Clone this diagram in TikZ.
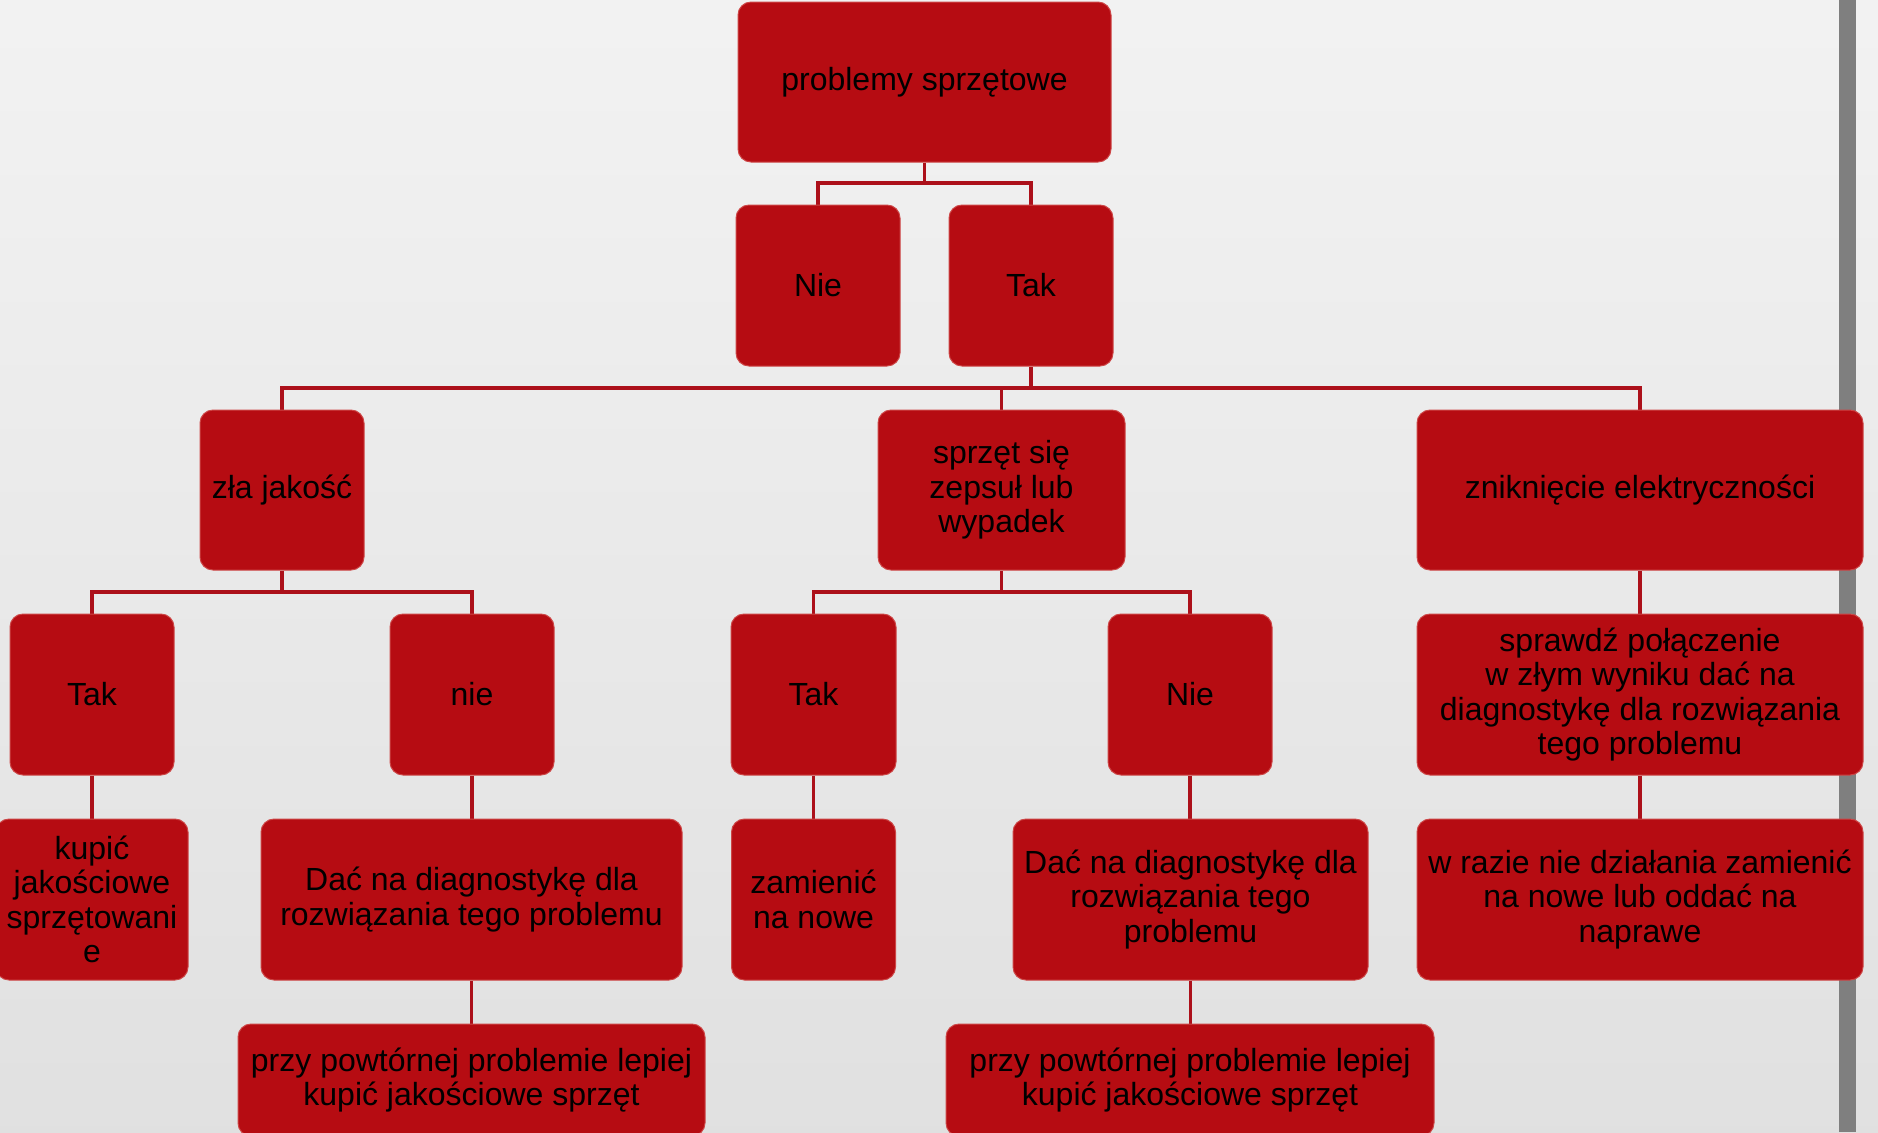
\documentclass[tikz,border=0pt]{standalone}
\usepackage{fontspec}
\setmainfont{Liberation Sans}
\definecolor{boxred}{RGB}{182,12,18}
\definecolor{boxedge}{RGB}{205,70,70}
\definecolor{linered}{RGB}{172,16,26}
\definecolor{barGray}{RGB}{127,127,127}
\pgfdeclarelayer{bglayer}
\pgfdeclarelayer{linelayer}
\pgfsetlayers{bglayer,linelayer,main}
\begin{document}
\begin{tikzpicture}[x=0.5pt,y=-0.5pt,
  box/.style={draw=boxedge,line width=0.5pt,fill=boxred,rounded corners=6.5pt,
    inner sep=0pt,align=center,text=black,
    font=\fontsize{16}{17.2}\selectfont},
  conn/.style={draw=linered,line width=1.8pt}]
\useasboundingbox (0,0) rectangle (1878,1132);
% boxes
\node[box,minimum width=186.5pt,minimum height=80pt] (root) at (924.5,82) {problemy sprzętowe};
\node[box,minimum width=82pt,minimum height=80.5pt] (nie1) at (818,285.5) {Nie};
\node[box,minimum width=82pt,minimum height=80.5pt] (tak1) at (1031,285.5) {Tak};
\node[box,minimum width=82pt,minimum height=80pt] (zla) at (282,490) {zła jakość};
\node[box,minimum width=123.5pt,minimum height=80pt] (sprz) at (1001.5,490) {sprzęt się\\zepsuł lub\\wypadek};
\node[box,minimum width=223pt,minimum height=80pt] (znik) at (1640,490) {zniknięcie elektryczności};
\node[box,minimum width=82pt,minimum height=80.5pt] (takL) at (92,694.5) {Tak};
\node[box,minimum width=82pt,minimum height=80.5pt] (nieL) at (472,694.5) {nie};
\node[box,minimum width=82.5pt,minimum height=80.5pt] (takM) at (813.5,694.5) {Tak};
\node[box,minimum width=82pt,minimum height=80.5pt] (nieM) at (1190,694.5) {Nie};
\node[box,minimum width=223pt,minimum height=80.5pt] (spraw) at (1640,694.5) {sprawdź połączenie\\w złym wyniku dać na\\diagnostykę dla rozwiązania\\tego problemu};
\node[box,minimum width=96pt,minimum height=80.5pt] (kupic) at (92,899.5) {kupić\\jakościowe\\sprzętowani\\e};
\node[box,minimum width=210.5pt,minimum height=80.5pt] (dacL) at (471.5,899.5) {Dać na diagnostykę dla\\rozwiązania tego problemu};
\node[box,minimum width=82pt,minimum height=80.5pt] (zam) at (813.5,899.5) {zamienić\\na nowe};
\node[box,minimum width=177.5pt,minimum height=80.5pt] (dacM) at (1190.5,899.5) {Dać na diagnostykę dla\\rozwiązania tego\\problemu};
\node[box,minimum width=223pt,minimum height=80.5pt] (wraz) at (1640,899.5) {w razie nie działania zamienić\\na nowe lub oddać na\\naprawe};
\node[box,minimum width=233.5pt,minimum height=56pt] (przyL) at (471.5,1080) {przy powtórnej problemie lepiej\\kupić jakościowe sprzęt};
\node[box,minimum width=244pt,minimum height=56pt] (przyM) at (1190,1080) {przy powtórnej problemie lepiej\\kupić jakościowe sprzęt};
% junctions
\coordinate (j1) at (924.5,183);
\coordinate (j2) at (1031,388);
\coordinate (j3) at (282,592);
\coordinate (j4) at (1001.5,592);
% background
\begin{pgfonlayer}{bglayer}
  \shade[top color=black!5,bottom color=black!12] (0,0) rectangle (1878,1132);
  \fill[barGray] (1839,0) rectangle (1856,1132);
\end{pgfonlayer}
% connectors
\begin{pgfonlayer}{linelayer}
  \draw[conn] (root.south) -- (j1);
  \draw[conn] (nie1.north) |- (j1) -| (tak1.north);
  \draw[conn] (tak1.south) -- (j2);
  \draw[conn] (zla.north) |- (j2) -| (znik.north);
  \draw[conn] (sprz.north) -- (sprz.north |- j2);
  \draw[conn] (zla.south) -- (j3);
  \draw[conn] (takL.north) |- (j3) -| (nieL.north);
  \draw[conn] (sprz.south) -- (j4);
  \draw[conn] (takM.north) |- (j4) -| (nieM.north);
  \draw[conn] (takL.south) -- (takL.south |- kupic.north);
  \draw[conn] (nieL.south) -- (nieL.south |- dacL.north);
  \draw[conn] (dacL.south) -- (dacL.south |- przyL.north);
  \draw[conn] (takM.south) -- (takM.south |- zam.north);
  \draw[conn] (nieM.south) -- (nieM.south |- dacM.north);
  \draw[conn] (dacM.south) -- (dacM.south |- przyM.north);
  \draw[conn] (znik.south) -- (znik.south |- spraw.north);
  \draw[conn] (spraw.south) -- (spraw.south |- wraz.north);
\end{pgfonlayer}
\end{tikzpicture}
\end{document}
